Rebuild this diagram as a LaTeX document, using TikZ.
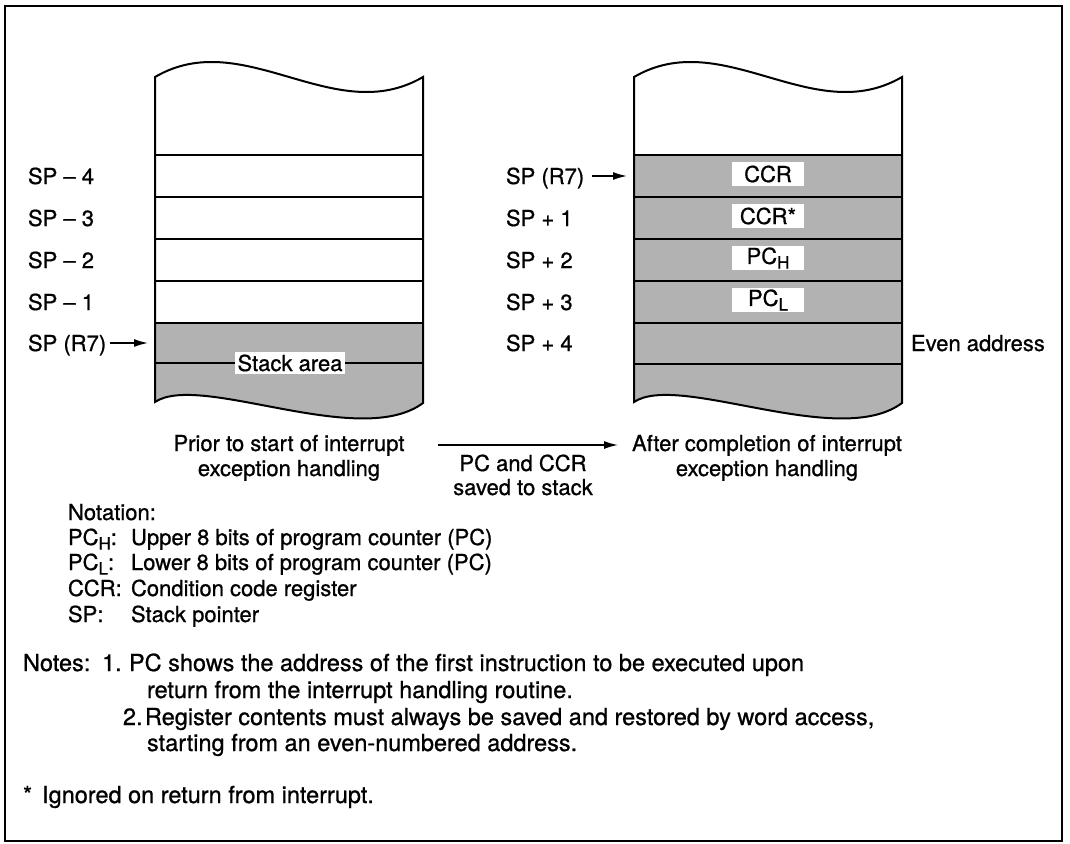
\documentclass[tikz,border=0pt]{standalone}
\usepackage{fontspec}
\setmainfont[FakeBold=0.8,AutoFakeBold=0.8]{TeX Gyre Heros}
\usetikzlibrary{arrows.meta}
\definecolor{shadegray}{gray}{0.70}
\newcommand{\subH}{\raisebox{-0.4ex}{\fontsize{17}{17}\selectfont H}}
\newcommand{\subL}{\raisebox{-0.4ex}{\fontsize{17}{17}\selectfont L}}
\begin{document}
\begin{tikzpicture}[x=1pt,y=-1pt,
  font=\fontsize{22}{26}\selectfont\bfseries,
  line width=2pt, line join=miter,
  txt/.style={anchor=base west, inner sep=0pt},
  ntxt/.style={anchor=base west, inner sep=0pt, font=\fontsize{23.5}{27}\selectfont\bfseries},
  ctxt/.style={anchor=base, inner sep=0pt},
  cellbox/.style={fill=white, inner sep=0pt, minimum width=72pt, minimum height=24pt},
  ptr/.style={line width=1.5pt, -{Latex[length=14pt,width=8pt]}},
  shaded/.style={fill=shadegray}]
\useasboundingbox (0,0) rectangle (1070,843);
% frame
\draw (5,6) rectangle (1062,841);

% ---------- left stack ----------
\fill[shaded] (155,323) -- (423,323) -- (423,403) .. controls (360,450) and (200,372) .. (155,402) -- cycle;
\draw (155,155) -- (423,155);
\draw (155,197) -- (423,197);
\draw (155,239) -- (423,239);
\draw (155,281) -- (423,281);
\draw (155,323) -- (423,323);
\draw (155,363) -- (423,363);
\draw (155,77) .. controls (244,25) and (334,129) .. (423,77) -- (423,403)
      .. controls (360,450) and (200,372) .. (155,402) -- cycle;
\node[fill=white, inner sep=3pt] (stackarea) at (290,363) {Stack area};

% ---------- right stack ----------
\begin{scope}[shift={(479,0)}]
\fill[shaded] (155,155) -- (423,155) -- (423,403) .. controls (360,450) and (200,372) .. (155,402) -- cycle;
\draw (155,155) -- (423,155);
\draw (155,197) -- (423,197);
\draw (155,239) -- (423,239);
\draw (155,281) -- (423,281);
\draw (155,323) -- (423,323);
\draw (155,364) -- (423,364);
\draw (155,77) .. controls (244,25) and (334,129) .. (423,77) -- (423,403)
      .. controls (360,450) and (200,372) .. (155,402) -- cycle;
\end{scope}
\node[cellbox] (ccr)  at (768,174) {CCR};
\node[cellbox] (ccrs) at (768,216) {CCR*};
\node[cellbox] (pch)  at (768,258) {PC\subH};
\node[cellbox] (pcl)  at (768,300) {PC\subL};

% ---------- left labels ----------
\node[txt] (lm4) at (27,184) {SP – 4};
\node[txt] (lm3) at (27,226) {SP – 3};
\node[txt] (lm2) at (27,268) {SP – 2};
\node[txt] (lm1) at (27,310) {SP – 1};
\node[txt] (lsp) at (27,351) {SP (R7)};
\coordinate (lstack) at (148,343);
\draw[ptr] (110,343) -- (lstack);

% ---------- right labels ----------
\node[txt] (rsp) at (505,184) {SP (R7)};
\node[txt] (rp1) at (505,226) {SP + 1};
\node[txt] (rp2) at (505,268) {SP + 2};
\node[txt] (rp3) at (505,310) {SP + 3};
\node[txt] (rp4) at (505,351) {SP + 4};
\node[txt] (even) at (910,351) {Even address};
\coordinate (rstack) at (627,176);
\draw[ptr] (592,176) -- (rstack);

% ---------- captions ----------
\node[ctxt] (capl1) at (289,451) {Prior to start of interrupt};
\node[ctxt] (capl2) at (289,476) {exception handling};
\node[ctxt] (capr1) at (767,451) {After completion of interrupt};
\node[ctxt] (capr2) at (767,476) {exception handling};
\node[ctxt] (mid1) at (523,471) {PC and CCR};
\node[ctxt] (mid2) at (523,495) {saved to stack};
\coordinate (arrS) at (438,445);
\coordinate (arrE) at (618,445);
\draw[ptr] (arrS) -- (arrE);

% ---------- notation ----------
\node[txt] (nt)  at (67,520) {Notation:};
\node[txt] (n1a) at (67,545) {PC\subH:};
\node[txt] (n1b) at (130,545) {Upper 8 bits of program counter (PC)};
\node[txt] (n2a) at (67,570) {PC\subL:};
\node[txt] (n2b) at (130,570) {Lower 8 bits of program counter (PC)};
\node[txt] (n3a) at (67,596) {CCR:};
\node[txt] (n3b) at (130,596) {Condition code register};
\node[txt] (n4a) at (67,622) {SP:};
\node[txt] (n4b) at (130,622) {Stack pointer};

% ---------- notes ----------
\node[ntxt] (notes) at (22,671) {Notes:};
\node[ntxt] (no1)  at (101,671) {1.};
\node[ntxt] (no1a) at (128,671) {PC shows the address of the first instruction to be executed upon};
\node[ntxt] (no1b) at (146,698) {return from the interrupt handling routine.};
\node[ntxt] (no2)  at (122,725) {2.};
\node[ntxt] (no2a) at (144,725) {Register contents must always be saved and restored by word access,};
\node[ntxt] (no2b) at (146,751) {starting from an even-numbered address.};
\node[ntxt] (star) at (22,803) {*\hspace{10pt}Ignored on return from interrupt.};
\end{tikzpicture}
\end{document}
